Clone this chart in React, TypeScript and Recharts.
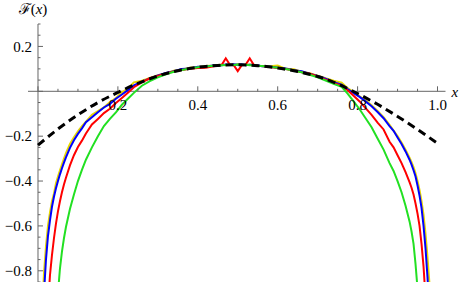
import React from 'react';
import { LineChart, Line, XAxis, YAxis, ReferenceLine } from 'recharts';

// shared x grid for the four simulated curves (denser near the edges)
const gridX = [
  0.01, 0.015, 0.02, 0.025, 0.03, 0.035, 0.04, 0.045, 0.05, 0.055, 0.06, 0.065, 0.07,
  0.08, 0.09, 0.1, 0.11, 0.12, 0.135, 0.15, 0.165, 0.18, 0.195, 0.21, 0.225, 0.24,
  0.26, 0.28, 0.3, 0.32, 0.34, 0.36, 0.38, 0.4, 0.42, 0.44,
  0.45, 0.46, 0.47, 0.48, 0.49, 0.5, 0.51, 0.52, 0.53, 0.54, 0.55,
  0.56, 0.58, 0.6, 0.62, 0.64, 0.66, 0.68, 0.7, 0.72, 0.74,
  0.76, 0.775, 0.79, 0.805, 0.82, 0.835, 0.85, 0.865, 0.88, 0.89, 0.9, 0.91, 0.92,
  0.93, 0.935, 0.94, 0.945, 0.95, 0.955, 0.96, 0.965, 0.97, 0.975, 0.98, 0.985, 0.99,
];

const yellowY = [
  -1.0, -0.81, -0.69, -0.6, -0.54, -0.49, -0.455, -0.41, -0.38, -0.352, -0.325, -0.3, -0.275,
  -0.235, -0.205, -0.178, -0.155, -0.135, -0.105, -0.088, -0.072, -0.048, -0.03, -0.004, 0.012, 0.04,
  0.047, 0.06, 0.072, 0.08, 0.092, 0.096, 0.105, 0.108, 0.113, 0.115,
  0.117, 0.118, 0.116, 0.119, 0.117, 0.12, 0.118, 0.117, 0.119, 0.118, 0.114,
  0.113, 0.112, 0.115, 0.1, 0.098, 0.087, 0.081, 0.07, 0.058, 0.047,
  0.038, 0.014, -0.004, -0.022, -0.04, -0.062, -0.088, -0.115, -0.15, -0.175, -0.2, -0.228, -0.26,
  -0.296, -0.316, -0.338, -0.365, -0.4, -0.44, -0.49, -0.55, -0.635, -0.74, -0.86, -1.05, null,
];

const blueY = [
  -1.15, -0.9, -0.75, -0.645, -0.575, -0.515, -0.47, -0.432, -0.4, -0.37, -0.343, -0.318, -0.295,
  -0.252, -0.218, -0.19, -0.165, -0.138, -0.116, -0.093, -0.072, -0.056, -0.033, -0.014, 0.005, 0.026,
  0.043, 0.057, 0.071, 0.082, 0.089, 0.099, 0.102, 0.109, 0.11, 0.116,
  0.114, 0.116, 0.119, 0.117, 0.121, 0.118, 0.12, 0.116, 0.118, 0.117, 0.116,
  0.112, 0.111, 0.105, 0.102, 0.094, 0.089, 0.078, 0.068, 0.056, 0.041,
  0.03, 0.01, -0.008, -0.025, -0.045, -0.067, -0.092, -0.12, -0.155, -0.176, -0.206, -0.235, -0.268,
  -0.305, -0.327, -0.352, -0.38, -0.42, -0.465, -0.52, -0.6, -0.7, -0.83, -1.0, null, null,
];

const redY = [
  null, null, -1.2, -0.96, -0.82, -0.73, -0.655, -0.59, -0.535, -0.49, -0.45, -0.415, -0.385,
  -0.33, -0.285, -0.248, -0.22, -0.188, -0.148, -0.123, -0.097, -0.078, -0.052, -0.03, -0.007, 0.018,
  0.04, 0.058, 0.068, 0.08, 0.088, 0.095, 0.101, 0.104, 0.105, 0.112,
  0.114, 0.118, 0.147, 0.119, 0.116, 0.09, 0.116, 0.119, 0.147, 0.118, 0.114,
  0.113, 0.108, 0.104, 0.099, 0.093, 0.085, 0.078, 0.066, 0.052, 0.036,
  0.025, 0.005, -0.02, -0.045, -0.075, -0.105, -0.14, -0.17, -0.225, -0.25, -0.285, -0.32, -0.36,
  -0.405, -0.43, -0.46, -0.5, -0.545, -0.6, -0.68, -0.78, -0.92, null, null, null, null,
];

const greenY = [
  null, null, null, null, null, null, null, -1.1, -0.9, -0.79, -0.715, -0.655, -0.605,
  -0.525, -0.46, -0.4, -0.35, -0.305, -0.25, -0.2, -0.155, -0.123, -0.094, -0.06, -0.033, -0.007,
  0.025, 0.045, 0.062, 0.076, 0.087, 0.095, 0.102, 0.107, 0.111, 0.114,
  0.115, 0.116, 0.117, 0.118, 0.117, 0.119, 0.117, 0.118, 0.116, 0.116, 0.114,
  0.113, 0.109, 0.105, 0.099, 0.093, 0.085, 0.074, 0.062, 0.048, 0.033,
  0.02, -0.01, -0.045, -0.08, -0.12, -0.16, -0.21, -0.26, -0.32, -0.355, -0.4, -0.45, -0.51,
  -0.58, -0.625, -0.68, -0.77, -0.88, -1.05, null, null, null, null, null, null, null,
];

// theoretical curve (black dashed)
const dashX = [0, 0.05, 0.1, 0.15, 0.2, 0.25, 0.3, 0.35, 0.4, 0.45, 0.5, 0.55, 0.6, 0.65, 0.7, 0.75, 0.8, 0.85, 0.9, 0.95, 1.0];
const dashY = [-0.24, -0.168, -0.105, -0.05, -0.005, 0.035, 0.068, 0.092, 0.107, 0.115, 0.118, 0.114, 0.104, 0.088, 0.066, 0.033, -0.01, -0.058, -0.112, -0.17, -0.232];

const xTicks = [0, 0.05, 0.1, 0.15, 0.2, 0.25, 0.3, 0.35, 0.4, 0.45, 0.5, 0.55, 0.6, 0.65, 0.7, 0.75, 0.8, 0.85, 0.9, 0.95, 1.0];
const yTicks = [-0.85, -0.8, -0.75, -0.7, -0.65, -0.6, -0.55, -0.5, -0.45, -0.4, -0.35, -0.3, -0.25, -0.2, -0.15, -0.1, -0.05, 0, 0.05, 0.1, 0.15, 0.2, 0.25, 0.3];
const xLabels = [0.2, 0.4, 0.6, 0.8, 1.0];
const yLabels = [-0.8, -0.6, -0.4, -0.2, 0.2];

const W = 463;
const H = 282;
// axes get 1px of room (recharts skips drawing a zero-sized axis)
const margin = { top: 23, right: 17.5, bottom: 0, left: 27 };
const AXIS_ROOM = 1;
const X_DOMAIN: [number, number] = [-0.025, 1.02];
const Y_DOMAIN: [number, number] = [-0.85, 0.3];
const plotLeft = margin.left + AXIS_ROOM;
const plotTop = margin.top + AXIS_ROOM;
const plotW = W - plotLeft - margin.right;
const plotH = H - plotTop - margin.bottom;
// where the axes cross, the axes are drawn through the origin like Mathematica does
const originX = plotLeft + ((0 - X_DOMAIN[0]) / (X_DOMAIN[1] - X_DOMAIN[0])) * plotW;
const originY = plotTop + ((Y_DOMAIN[1] - 0) / (Y_DOMAIN[1] - Y_DOMAIN[0])) * plotH;

const AXIS = '#666';
const FONT = '"Liberation Serif", "Times New Roman", serif';
const FONT_SIZE = 15;

const inList = (v: number, list: number[]) => list.some((l) => Math.abs(l - v) < 1e-6);
const isMajor = (v: number) => Math.abs(v * 5 - Math.round(v * 5)) < 1e-6;
const fmt = (v: number) => (v < 0 ? '\u2212' : '') + Math.abs(v).toFixed(1);

const XTick = (props: any) => {
  const { x, payload } = props;
  const v = payload.value;
  const len = isMajor(v) ? 5 : 2.5;
  return (
    <g>
      <line x1={x} x2={x} y1={originY} y2={originY - len} stroke={AXIS} strokeWidth={1} />
      {inList(v, xLabels) && (
        <text x={x} y={originY + 19} textAnchor="middle" fontFamily={FONT} fontSize={FONT_SIZE} fill="#000">
          {fmt(v)}
        </text>
      )}
    </g>
  );
};

const YTick = (props: any) => {
  const { y, payload } = props;
  const v = payload.value;
  const len = isMajor(v) ? 5 : 2.5;
  return (
    <g>
      <line x1={originX} x2={originX + len} y1={y} y2={y} stroke={AXIS} strokeWidth={1} />
      {inList(v, yLabels) && (
        <text x={originX - 6} y={y} dy="0.35em" textAnchor="end" fontFamily={FONT} fontSize={FONT_SIZE} fill="#000">
          {fmt(v)}
        </text>
      )}
    </g>
  );
};

const FLabel = (props: any) => {
  const vb = props.viewBox || {};
  return (
    <text x={vb.x - 5} y={vb.y - 10} textAnchor="middle" fontFamily={FONT} fontSize={FONT_SIZE} fill="#000">
      <tspan>{'\u2131'}</tspan>
      <tspan>(</tspan>
      <tspan fontStyle="italic">x</tspan>
      <tspan>)</tspan>
    </text>
  );
};

const rows = gridX.map((x, i) => ({
  x,
  yellow: yellowY[i],
  blue: blueY[i],
  red: redY[i],
  green: greenY[i],
}));

const dashData = dashX.map((x, i) => ({ x, y: dashY[i] }));

export default function App() {
  return (
    <div style={{ position: 'absolute', left: 0, top: 0, width: W, height: H, background: '#fff' }}>
      <LineChart width={W} height={H} data={rows} margin={margin}>
        <XAxis
          dataKey="x"
          type="number"
          orientation="top"
          domain={X_DOMAIN}
          allowDataOverflow
          ticks={xTicks}
          interval={0}
          height={AXIS_ROOM}
          axisLine={false}
          tickLine={false}
          tick={XTick}
        />
        <YAxis
          type="number"
          domain={Y_DOMAIN}
          allowDataOverflow
          ticks={yTicks}
          interval={0}
          width={AXIS_ROOM}
          axisLine={false}
          tickLine={false}
          tick={YTick}
        />
        <ReferenceLine
          y={0}
          stroke={AXIS}
          strokeWidth={1}
          label={{ value: 'x', position: 'right', offset: 6, fontFamily: FONT, fontSize: FONT_SIZE, fontStyle: 'italic', fill: '#000' }}
        />
        <ReferenceLine x={0} stroke={AXIS} strokeWidth={1} label={<FLabel />} />
        <Line dataKey="yellow" stroke="#e8d800" strokeWidth={2} dot={false} isAnimationActive={false} />
        <Line dataKey="blue" stroke="#0000ff" strokeWidth={2} dot={false} isAnimationActive={false} />
        <Line dataKey="red" stroke="#ff0000" strokeWidth={2} dot={false} isAnimationActive={false} />
        <Line dataKey="green" stroke="#22e022" strokeWidth={2} dot={false} isAnimationActive={false} />
        <Line
          data={dashData}
          dataKey="y"
          type="monotone"
          stroke="#000"
          strokeWidth={3}
          strokeDasharray="8 5"
          dot={false}
          isAnimationActive={false}
        />
      </LineChart>
    </div>
  );
}
